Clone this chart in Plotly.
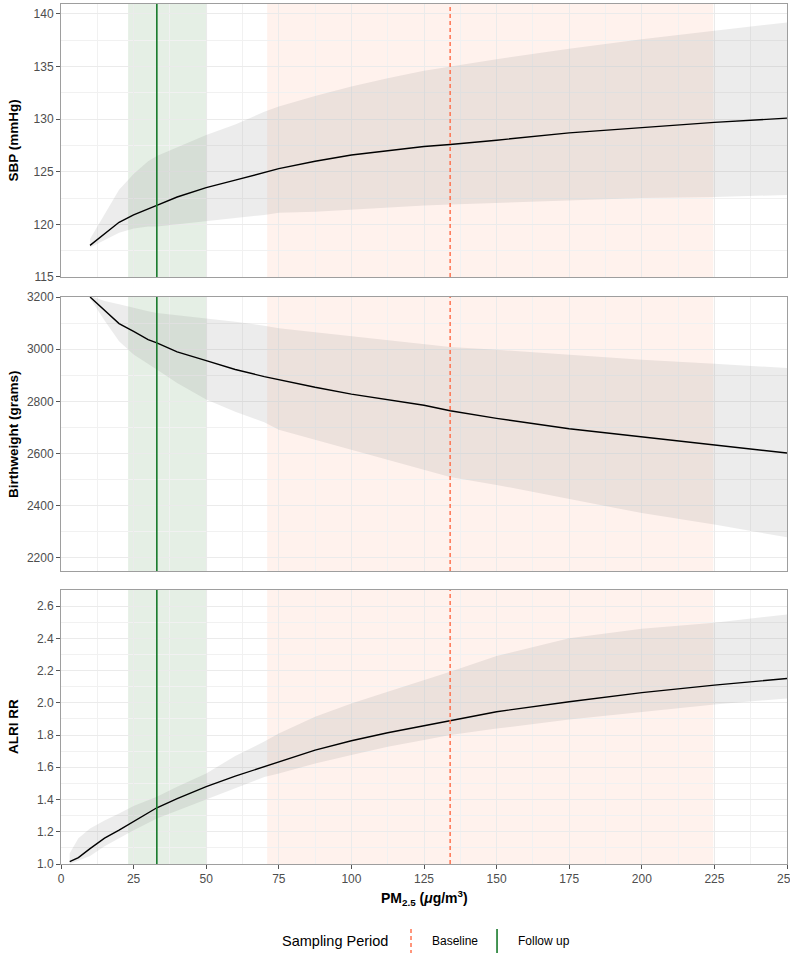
import plotly.graph_objects as go
from plotly.subplots import make_subplots

# exposure grid (PM2.5, ug/m3)
pm_sbp = [10, 15, 20, 25, 30, 33, 40, 50, 60, 70, 75, 87.5, 100, 112.5, 125, 134, 150, 175, 200, 225, 250]
sbp_fit = [118.0, 119.1, 120.2, 120.9, 121.5, 121.8, 122.6, 123.5, 124.2, 124.9, 125.3, 126.0, 126.6, 127.0,
           127.4, 127.6, 128.0, 128.7, 129.2, 129.7, 130.1]
sbp_hi = [118.6, 121.0, 123.3, 124.8, 126.0, 126.5, 127.3, 128.5, 129.5, 130.7, 131.2, 132.2, 133.1, 133.9,
          134.6, 135.0, 135.7, 136.7, 137.6, 138.4, 139.2]
sbp_lo = [117.8, 118.5, 119.2, 119.6, 119.8, 119.8, 120.0, 120.3, 120.6, 120.9, 121.1, 121.2, 121.4, 121.6,
          121.8, 121.9, 122.1, 122.3, 122.5, 122.6, 122.8]

pm_bw = [10, 15, 20, 25, 30, 33, 40, 50, 60, 70, 75, 87.5, 100, 112.5, 125, 134, 150, 175, 200, 225, 250]
bw_fit = [3200, 3148, 3098, 3068, 3037, 3024, 2990, 2956, 2922, 2895, 2883, 2854, 2828, 2806, 2785, 2764,
          2735, 2695, 2664, 2634, 2602]
bw_hi = [3205, 3185, 3172, 3158, 3145, 3139, 3130, 3120, 3105, 3090, 3080, 3065, 3049, 3033, 3017, 3008,
         2998, 2978, 2960, 2944, 2928]
bw_lo = [3195, 3110, 3030, 2980, 2945, 2922, 2870, 2807, 2760, 2720, 2691, 2653, 2615, 2577, 2538, 2510,
         2480, 2425, 2372, 2328, 2279]

pm_alri = [3, 6, 10, 15, 20, 25, 33, 40, 50, 60, 70, 75, 87.5, 100, 112.5, 125, 134, 150, 175, 200, 225, 250]
alri_fit = [1.014, 1.04, 1.095, 1.16, 1.21, 1.263, 1.349, 1.405, 1.48, 1.545, 1.605, 1.635, 1.707, 1.765,
            1.814, 1.858, 1.889, 1.945, 2.007, 2.063, 2.11, 2.151]
alri_hi = [1.066, 1.16, 1.22, 1.27, 1.314, 1.36, 1.418, 1.48, 1.562, 1.67, 1.76, 1.81, 1.914, 1.996,
           2.069, 2.141, 2.193, 2.29, 2.40, 2.46, 2.497, 2.548]
alri_lo = [1.0, 1.02, 1.05, 1.11, 1.159, 1.21, 1.283, 1.33, 1.40, 1.47, 1.54, 1.562, 1.624, 1.676,
           1.728, 1.769, 1.80, 1.84, 1.897, 1.945, 1.99, 2.027]

# sampling periods: median and range of exposure
baseline_median = 134
baseline_range = [71, 224.6]
followup_median = 33
followup_range = [23.1, 50.3]

x_ticks = [0, 25, 50, 75, 100, 125, 150, 175, 200, 225, 250]

FONT = "Liberation Sans, Arial, sans-serif"
GRID = "#EBEBEB"
MINOR = "#F1F1F1"
BORDER = "#9E9E9E"
RIBBON = "rgba(128,128,128,0.15)"
BASE_COL = "#FF6A45"
FOLLOW_COL = "#177A2B"

fig = make_subplots(rows=3, cols=1, shared_xaxes=True)

panels = [
    (pm_sbp, sbp_fit, sbp_lo, sbp_hi),
    (pm_bw, bw_fit, bw_lo, bw_hi),
    (pm_alri, alri_fit, alri_lo, alri_hi),
]
for i, (xs, fit, lo, hi) in enumerate(panels, start=1):
    # confidence ribbon as one closed polygon
    fig.add_trace(go.Scatter(
        x=xs + xs[::-1], y=hi + lo[::-1], fill="toself", fillcolor=RIBBON,
        line=dict(width=0), mode="lines", hoverinfo="skip", showlegend=False), row=i, col=1)
    fig.add_trace(go.Scatter(
        x=xs, y=fit, mode="lines", line=dict(color="black", width=1.4),
        showlegend=False), row=i, col=1)

# exposure ranges and medians of both sampling periods
fig.add_vrect(x0=baseline_range[0], x1=baseline_range[1], row="all", col=1,
              fillcolor="rgba(255,127,80,0.1)", line_width=0, layer="below")
fig.add_vrect(x0=followup_range[0], x1=followup_range[1], row="all", col=1,
              fillcolor="rgba(0,100,0,0.1)", line_width=0, layer="below")
fig.add_vline(x=baseline_median, row="all", col=1,
              line=dict(color=BASE_COL, width=1.4, dash="4px,3px"))
fig.add_vline(x=followup_median, row="all", col=1,
              line=dict(color=FOLLOW_COL, width=1.6))

# panel placement
domains = [[0.6826, 1.0], [0.3407, 0.6593], [0.0, 0.3186]]
y_ranges = [[115, 140.95], [2150, 3200], [1.0, 2.7]]
y_dticks = [5, 200, 0.2]
y_minor = [2.5, 100, 0.1]
y_formats = ["d", "d", ".1f"]
y_titles = ["SBP (mmHg)", "Birthweight (grams)", "ALRI RR"]

axis_common = dict(
    showline=True, mirror=True, linecolor=BORDER, linewidth=1,
    showgrid=True, gridcolor=GRID, gridwidth=1.1, zeroline=False,
    ticks="outside", ticklen=4, tickcolor="#555555",
    tickfont=dict(family=FONT, size=12, color="#4D4D4D"),
    automargin=False,
)

for i in range(3):
    sfx = "" if i == 0 else str(i + 1)
    fig.layout["yaxis" + sfx].update(
        domain=domains[i], range=y_ranges[i], dtick=y_dticks[i], tick0=0,
        tickformat=y_formats[i],
        minor=dict(dtick=y_minor[i], showgrid=True, gridcolor=MINOR, gridwidth=0.8, ticks=""),
        **axis_common)
    fig.layout["xaxis" + sfx].update(
        range=[0, 250], tickvals=x_ticks, ticklabeloverflow="allow",
        minor=dict(dtick=12.5, tick0=0, showgrid=True, gridcolor=MINOR, gridwidth=0.8, ticks=""),
        **axis_common)
    if i < 2:
        fig.layout["xaxis" + sfx].update(showticklabels=False, ticks="")
    dom = domains[i]
    fig.add_annotation(
        text="<b>" + y_titles[i] + "</b>", textangle=-90, xref="paper", yref="paper",
        x=-0.066, y=(dom[0] + dom[1]) / 2, xanchor="center", yanchor="middle",
        showarrow=False, font=dict(family=FONT, size=13.5, color="black"))

fig.add_annotation(
    text="<b>PM<sub>2.5</sub> (<i>μ</i>g/m<sup>3</sup>)</b>", xref="paper", yref="paper",
    x=0.5, y=-0.039, xanchor="center", yanchor="middle", showarrow=False,
    font=dict(family=FONT, size=14, color="black"))

# legend drawn by hand so the keys are vertical like the reference
leg_y = -0.0901
fig.add_annotation(text="Sampling Period", xref="paper", yref="paper", x=0.3017, y=leg_y,
                   xanchor="left", yanchor="middle", showarrow=False,
                   font=dict(family=FONT, size=14.5, color="black"))
fig.add_shape(type="line", xref="paper", yref="paper", x0=0.4821, x1=0.4821, y0=-0.0756, y1=-0.1035,
              line=dict(color=BASE_COL, width=1.4, dash="4px,3px"))
fig.add_annotation(text="Baseline", xref="paper", yref="paper", x=0.5083, y=leg_y,
                   xanchor="left", yanchor="middle", showarrow=False,
                   font=dict(family=FONT, size=12, color="black"))
fig.add_shape(type="line", xref="paper", yref="paper", x0=0.6006, x1=0.6006, y0=-0.0756, y1=-0.1035,
              line=dict(color=FOLLOW_COL, width=1.6))
fig.add_annotation(text="Follow up", xref="paper", yref="paper", x=0.6267, y=leg_y,
                   xanchor="left", yanchor="middle", showarrow=False,
                   font=dict(family=FONT, size=12, color="black"))

fig.update_layout(
    width=790, height=956,
    margin=dict(l=61, r=3, t=4, b=92),
    plot_bgcolor="white", paper_bgcolor="white",
    font=dict(family=FONT),
    showlegend=False,
)

# drop the browser's default 8px body margin so the figure sits at the window origin
fig.write_html("out.html", config={"displayModeBar": False},
               post_script="document.body.style.margin='0';")
